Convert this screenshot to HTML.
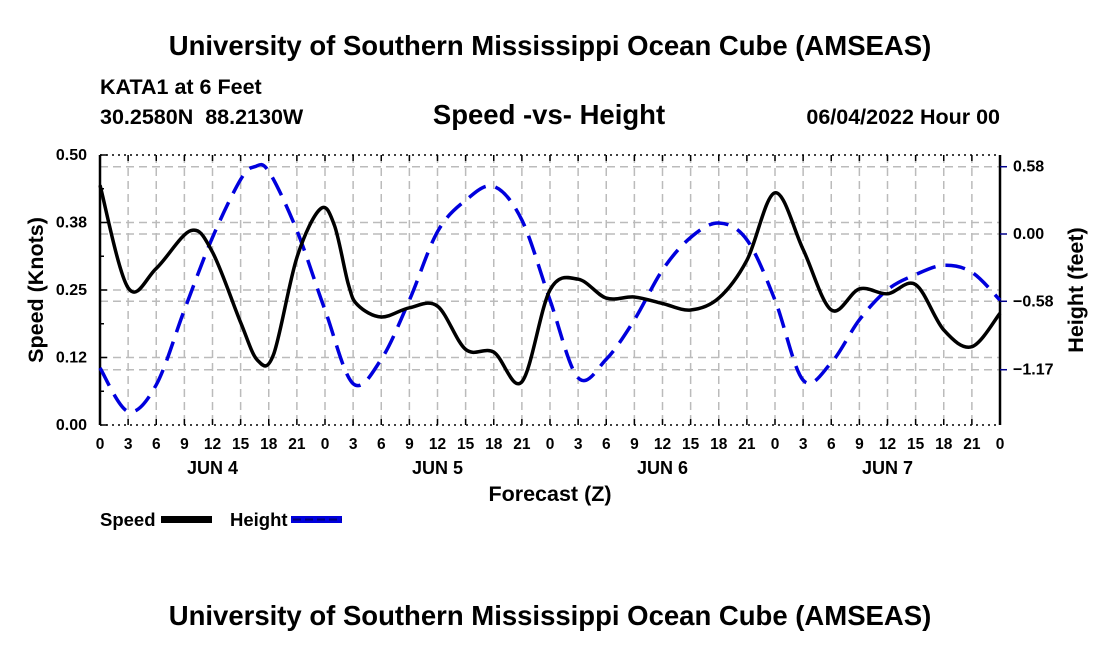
<!DOCTYPE html>
<html><head><meta charset="utf-8"><style>
html,body{margin:0;padding:0;background:#fff;}
svg{display:block;font-family:"Liberation Sans",sans-serif;font-weight:bold;}
</style></head><body>
<svg id="chart" width="1100" height="650" viewBox="0 0 1100 650">
<text x="550" y="55" text-anchor="middle" font-size="27.5">University of Southern Mississippi Ocean Cube (AMSEAS)</text>
<text x="100" y="94" font-size="21.5">KATA1 at 6 Feet</text>
<text x="100" y="124" font-size="21.5" xml:space="preserve">30.2580N  88.2130W</text>
<text x="549" y="124" text-anchor="middle" font-size="27.5">Speed -vs- Height</text>
<text x="1000" y="124" text-anchor="end" font-size="21.5">06/04/2022 Hour 00</text>
<g id="grid"></g>
<g id="axes"></g>
<g id="series"></g>
<text x="550" y="501" text-anchor="middle" font-size="21.5">Forecast (Z)</text>
<text transform="translate(43,290) rotate(-90)" text-anchor="middle" font-size="21.5">Speed (Knots)</text>
<text transform="translate(1083,290) rotate(-90)" text-anchor="middle" font-size="21.5">Height (feet)</text>
<g>
<text x="100" y="526" font-size="18.5">Speed</text>
<rect x="161" y="516" width="51" height="7" fill="#000"/>
<text x="230" y="526" font-size="18.5">Height</text>
<rect x="291" y="516" width="51" height="7" fill="#0000dd"/>
<line x1="293" y1="519.5" x2="342" y2="519.5" stroke="#00007a" stroke-width="2" stroke-dasharray="8,4"/>
</g>
<text x="550" y="625" text-anchor="middle" font-size="27.5">University of Southern Mississippi Ocean Cube (AMSEAS)</text>
</svg>
<script>
const hours=[0,3,6,9.7,12,15,16.8,18.5,21,23.5,25,26.5,27.5,30,33,36,39,42,45,48,51,54,57,60,63,66,69,72,75,78,81,84,87,90,93,96];
const speed=[0.444,0.254,0.29,0.36,0.32,0.19,0.12,0.13,0.31,0.40,0.37,0.26,0.222,0.20,0.217,0.22,0.14,0.135,0.08,0.25,0.27,0.235,0.237,0.225,0.213,0.235,0.305,0.43,0.325,0.213,0.252,0.243,0.26,0.176,0.145,0.207];
const hHours=[0,3,6,9,12,15,16.5,18,21,24,27,30,33,36,39,42,45,48,51,54,57,60,63,66,69,72,75,78,81,84,87,90,93,96];
const height=[-1.155,-1.53,-1.30,-0.655,-0.03,0.47,0.58,0.54,0.03,-0.655,-1.29,-1.08,-0.57,0.02,0.29,0.41,0.12,-0.57,-1.24,-1.08,-0.74,-0.31,-0.03,0.095,-0.05,-0.57,-1.26,-1.11,-0.74,-0.48,-0.35,-0.27,-0.33,-0.57];
const leftTicks=["0.00","0.12","0.25","0.38","0.50"];
const leftTickVals=[0,0.125,0.25,0.375,0.5];
const rightTicks=["0.58","0.00","\u22121.17","\u22120.58"];
const rightTickVals=[0.58,0,-1.17,-0.58];
const xTickLabels=["0","3","6","9","12","15","18","21"];
const dayLabels=["JUN 4","JUN 5","JUN 6","JUN 7"];

const L=100,R=1000,T=155,B=425;
const xs=h=>L+h*(R-L)/96;
const ysL=v=>B-v*(B-T)/0.5;
const ysR=v=>234-v*116;
const NS="http://www.w3.org/2000/svg";
function mk(tag,attrs,parent){const e=document.createElementNS(NS,tag);for(const k in attrs)e.setAttribute(k,attrs[k]);parent.appendChild(e);return e;}
const grid=document.getElementById('grid'),axes=document.getElementById('axes'),series=document.getElementById('series');
const gs={stroke:"#bbb","stroke-width":1.5,"stroke-dasharray":"8,5",fill:"none"};
for(let i=1;i<32;i++){const l=mk('line',Object.assign({x1:xs(i*3),x2:xs(i*3),y1:T,y2:B},gs),grid);

}
leftTickVals.slice(1,4).forEach(v=>{const l=mk('line',Object.assign({x1:L,x2:R,y1:ysL(v),y2:ysL(v)},gs),grid);

});
rightTickVals.forEach(v=>{const l=mk('line',Object.assign({x1:L,x2:R,y1:ysR(v),y2:ysR(v)},gs),grid);

});
mk('line',{x1:L,x2:L,y1:T,y2:B,stroke:"#000","stroke-width":2.5},axes);
mk('line',{x1:R,x2:R,y1:T,y2:B,stroke:"#000","stroke-width":2.5},axes);
mk('line',{x1:L,x2:R,y1:B,y2:B,stroke:"#000","stroke-width":1.5,"stroke-dasharray":"2,4"},axes);
mk('line',{x1:L,x2:R,y1:T,y2:T,stroke:"#000","stroke-width":1.5,"stroke-dasharray":"2,4"},axes);
for(let i=0;i<=32;i++){const x=xs(i*3);
mk('line',{x1:x,x2:x,y1:B,y2:B-6,stroke:"#000","stroke-width":1.5},axes);
mk('line',{x1:x,x2:x,y1:T,y2:T+6,stroke:"#000","stroke-width":1.5},axes);
const t=mk('text',{x:x,y:B+24,"text-anchor":"middle","font-size":15.5},axes);
t.textContent=i===32?"0":xTickLabels[i%8];

}
dayLabels.forEach((d,i)=>{const t=mk('text',{x:xs(i*24+12),y:B+49,"text-anchor":"middle","font-size":18},axes);t.textContent=d;

});
leftTickVals.forEach((v,i)=>{const y=ysL(v);mk('line',{x1:L,x2:L+7,y1:y,y2:y,stroke:"#000","stroke-width":1.5},axes);
const t=mk('text',{x:L-13,y:y+5,"text-anchor":"end","font-size":16},axes);t.textContent=leftTicks[i];

});
for(let v=0.0625;v<0.5;v+=0.125){mk('line',{x1:L,x2:L+4,y1:ysL(v),y2:ysL(v),stroke:"#000","stroke-width":1.5},axes);}
rightTickVals.forEach((v,i)=>{const y=ysR(v);mk('line',{x1:R,x2:R+7,y1:y,y2:y,stroke:"#00008b","stroke-width":1.5},axes);
const t=mk('text',{x:R+13,y:y+5,"font-size":16},axes);t.textContent=rightTicks[i];

});
function smooth(pts){let d="M"+pts[0][0]+","+pts[0][1];
for(let i=0;i<pts.length-1;i++){const p0=pts[Math.max(0,i-1)],p1=pts[i],p2=pts[i+1],p3=pts[Math.min(pts.length-1,i+2)];
const c1=[p1[0]+(p2[0]-p0[0])/6,p1[1]+(p2[1]-p0[1])/6],c2=[p2[0]-(p3[0]-p1[0])/6,p2[1]-(p3[1]-p1[1])/6];
d+=" C"+c1[0]+","+c1[1]+" "+c2[0]+","+c2[1]+" "+p2[0]+","+p2[1];}return d;}
const hp=mk('path',{d:smooth(hHours.map((h,i)=>[xs(h),ysR(height[i])])),fill:"none",stroke:"#0000dd","stroke-width":3.5,"stroke-dasharray":"20,10"},series);


const sp=mk('path',{d:smooth(hours.map((h,i)=>[xs(h),ysL(speed[i])])),fill:"none",stroke:"#000","stroke-width":3.5},series);


</script>
</body></html>
